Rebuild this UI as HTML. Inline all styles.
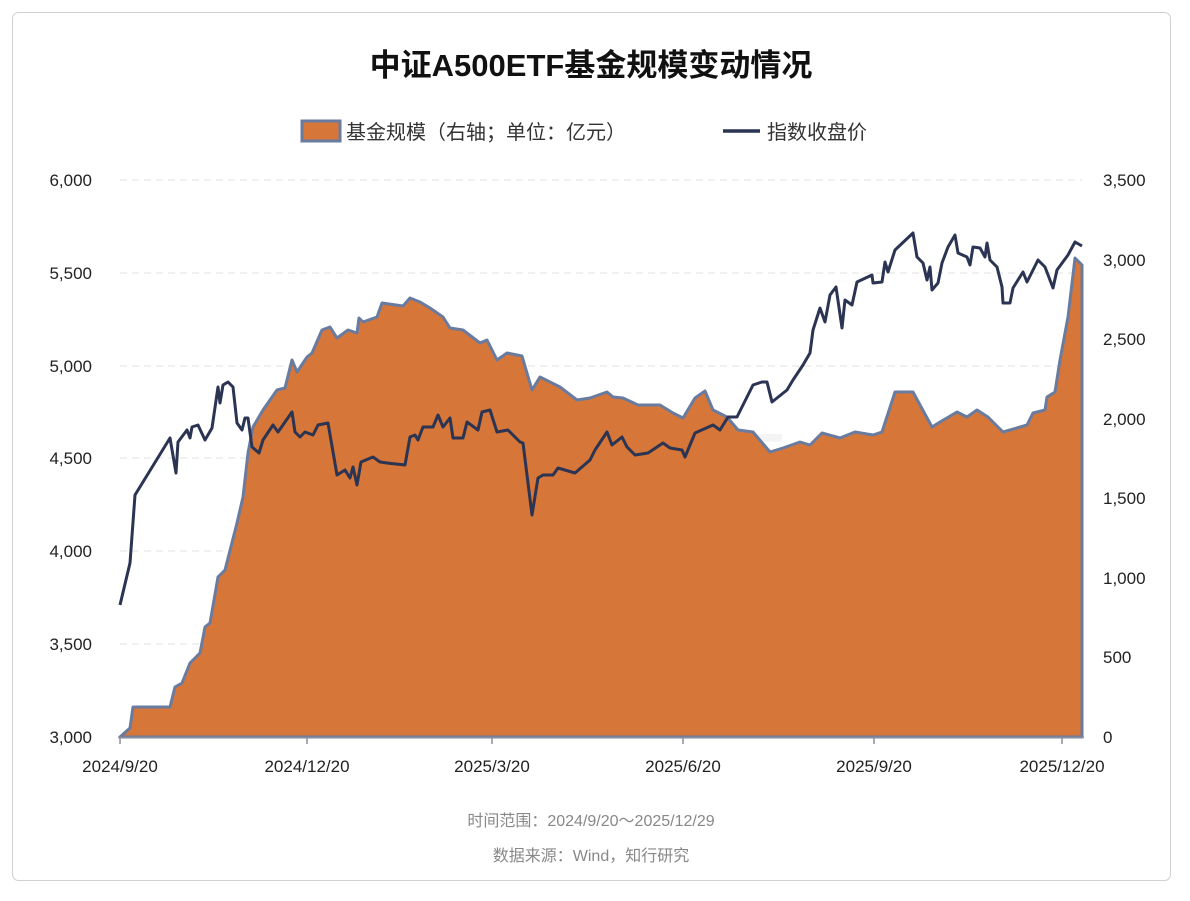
<!DOCTYPE html>
<html><head><meta charset="utf-8"><style>
body{margin:0;background:#fff;}
svg text{font-family:"Liberation Sans","Noto Sans CJK SC",sans-serif;}
</style></head><body>
<svg width="1190" height="896" xmlns="http://www.w3.org/2000/svg">
<rect x="12.5" y="12.5" width="1158" height="868" rx="6" fill="#fff" stroke="#d0d0d0"/>
<text x="591" y="76" text-anchor="middle" font-size="31" font-weight="bold" fill="#111">中证A500ETF基金规模变动情况</text>
<rect x="302" y="121" width="38" height="20" fill="#d67638" stroke="#6a7ba0" stroke-width="3"/>
<text x="346" y="139" font-size="20" fill="#333">基金规模（右轴；单位：亿元）</text>
<line x1="723" y1="131" x2="760" y2="131" stroke="#2b3452" stroke-width="3.5"/>
<text x="767" y="139" font-size="20" fill="#333">指数收盘价</text>
<g stroke="#e2e2e2" stroke-dasharray="7,5" stroke-width="1">
<line x1="120" y1="180" x2="1082" y2="180"/><line x1="120" y1="273" x2="1082" y2="273"/><line x1="120" y1="366" x2="1082" y2="366"/><line x1="120" y1="458" x2="1082" y2="458"/><line x1="120" y1="551" x2="1082" y2="551"/><line x1="120" y1="644" x2="1082" y2="644"/>
</g>
<g font-size="17" fill="#222" text-anchor="end">
<text x="92" y="186">6,000</text><text x="92" y="279">5,500</text><text x="92" y="372">5,000</text><text x="92" y="464">4,500</text><text x="92" y="557">4,000</text><text x="92" y="650">3,500</text><text x="92" y="743">3,000</text>
</g>
<g font-size="17" fill="#222">
<text x="1103" y="186">3,500</text><text x="1103" y="266">3,000</text><text x="1103" y="345">2,500</text><text x="1103" y="425">2,000</text><text x="1103" y="504">1,500</text><text x="1103" y="584">1,000</text><text x="1103" y="663">500</text><text x="1103" y="743">0</text>
</g>
<text x="570" y="520" text-anchor="middle" font-size="110" fill="#000" opacity="0.04">有知有行</text>
<polygon fill="#d67638" stroke="#6a7ba0" stroke-width="3" stroke-linejoin="round" points="120,737 130,728 133,707 170,707 175,687 182,683 190,663 200,653 205,627 210,623 218,577 225,570 237,523 243,497 248,453 253,427 263,410 277,390 285,388 292,360 297,372 307,357 312,353 322,330 330,327 337,338 348,330 357,333 359,318 363,322 377,317 382,303 403,306 410,298 420,302 430,308 443,317 450,328 463,330 480,343 487,340 497,360 507,353 522,356 532,390 540,377 560,387 577,400 590,398 607,392 613,397 623,398 638,405 660,405 673,413 683,418 695,398 705,391 713,410 727,417 738,430 753,432 770,452 783,448 800,442 810,445 822,433 840,438 855,432 873,435 882,432 895,392 913,392 932,427 940,422 957,412 967,417 977,410 988,417 1003,432 1027,425 1033,413 1045,410 1047,397 1055,392 1060,360 1068,317 1075,258 1082,265 1082,737"/>
<polyline fill="none" stroke="#2b3452" stroke-width="3" stroke-linejoin="round" points="120,605 130,563 135,495 170,438 176,473 178,442 187,430 190,438 192,427 198,425 205,440 212,428 218,387 220,403 223,385 228,382 233,387 237,423 242,430 245,418 248,418 252,447 259,453 263,440 273,425 278,432 285,422 292,412 295,432 300,437 305,432 313,435 318,425 328,423 337,475 345,470 350,478 353,467 357,485 361,462 373,457 380,462 387,463 405,465 410,437 415,435 418,440 423,427 433,427 438,415 443,427 450,418 453,438 463,438 467,422 478,430 482,412 490,410 497,432 508,430 520,442 523,443 532,515 538,478 543,475 553,475 558,468 575,473 590,460 595,450 607,432 612,445 622,437 627,447 635,455 648,453 663,443 670,448 682,450 685,457 695,433 713,425 720,430 728,417 737,417 743,405 753,385 762,382 767,382 772,402 787,390 793,380 803,365 810,353 813,330 820,308 825,322 830,295 836,287 842,328 845,300 852,305 857,282 872,275 873,283 882,282 885,262 888,272 895,250 913,233 917,257 923,263 927,280 930,267 932,290 938,283 942,263 948,247 955,235 958,253 967,257 970,265 973,247 980,248 985,257 987,243 990,260 997,267 1002,287 1003,303 1010,303 1013,288 1023,272 1027,282 1038,260 1045,267 1053,288 1057,270 1068,255 1075,242 1082,246"/>
<line x1="118" y1="737.5" x2="1084" y2="737.5" stroke="#8a8f99" stroke-width="1.5"/>
<g stroke="#8a8f99" stroke-width="1.5">
<line x1="120" y1="737" x2="120" y2="744"/><line x1="307" y1="737" x2="307" y2="744"/><line x1="492" y1="737" x2="492" y2="744"/><line x1="683" y1="737" x2="683" y2="744"/><line x1="874" y1="737" x2="874" y2="744"/><line x1="1062" y1="737" x2="1062" y2="744"/>
</g>
<g font-size="17" fill="#222" text-anchor="middle">
<text x="120" y="772">2024/9/20</text><text x="307" y="772">2024/12/20</text><text x="492" y="772">2025/3/20</text><text x="683" y="772">2025/6/20</text><text x="874" y="772">2025/9/20</text><text x="1062" y="772">2025/12/20</text>
</g>
<text x="591" y="826" text-anchor="middle" font-size="16" fill="#888">时间范围：2024/9/20～2025/12/29</text>
<text x="591" y="861" text-anchor="middle" font-size="16" fill="#888">数据来源：Wind，知行研究</text>
</svg>
</body></html>
